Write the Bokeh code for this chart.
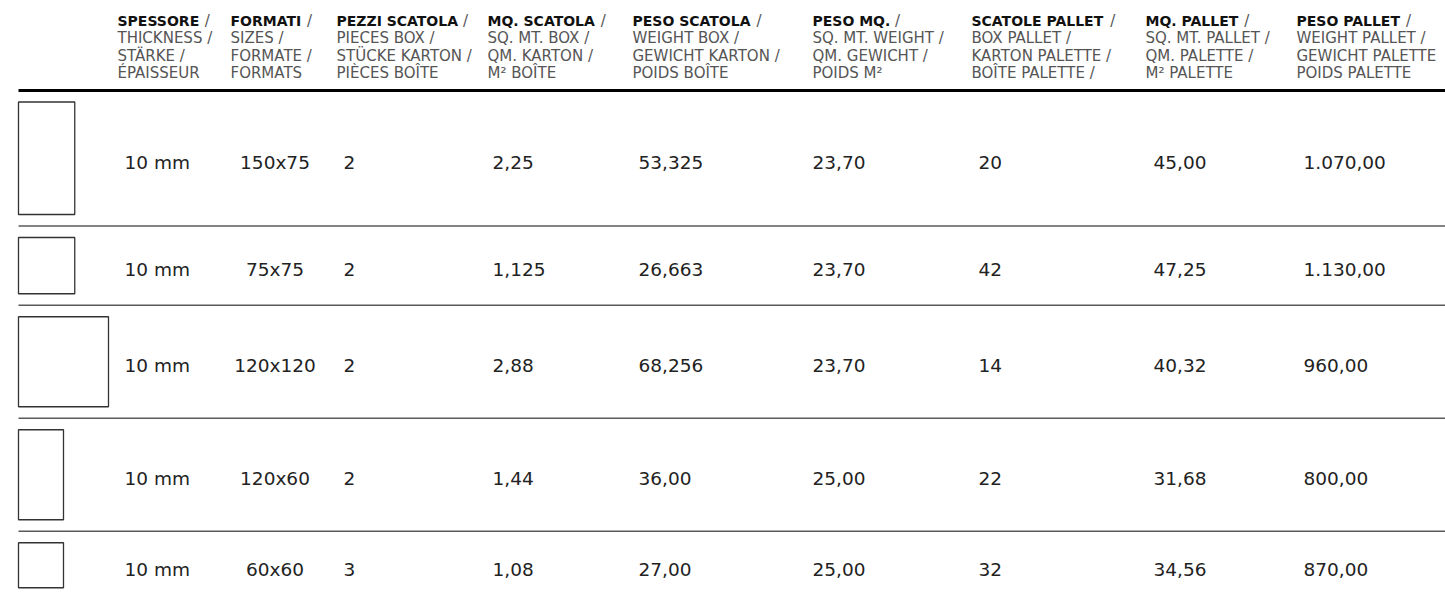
from bokeh.plotting import figure
from bokeh.models import Range1d, ColumnDataSource
from bokeh.embed import file_html
from bokeh.resources import INLINE
from bokeh.core.properties import value

# ---------------- data ----------------
thickness = ["10 mm", "10 mm", "10 mm", "10 mm", "10 mm"]
formats = ["150x75", "75x75", "120x120", "120x60", "60x60"]
pieces_box = ["2", "2", "2", "2", "3"]
sqm_box = ["2,25", "1,125", "2,88", "1,44", "1,08"]
weight_box = ["53,325", "26,663", "68,256", "36,00", "27,00"]
weight_sqm = ["23,70", "23,70", "23,70", "25,00", "25,00"]
box_pallet = ["20", "42", "14", "22", "32"]
sqm_pallet = ["45,00", "47,25", "40,32", "31,68", "34,56"]
weight_pallet = ["1.070,00", "1.130,00", "960,00", "800,00", "870,00"]

header_bold = ["SPESSORE", "FORMATI", "PEZZI SCATOLA", "MQ. SCATOLA", "PESO SCATOLA",
               "PESO MQ.", "SCATOLE PALLET", "MQ. PALLET", "PESO PALLET"]
header_line2 = ["THICKNESS /", "SIZES /", "PIECES BOX /", "SQ. MT. BOX /", "WEIGHT BOX /",
                "SQ. MT. WEIGHT /", "BOX PALLET /", "SQ. MT. PALLET /", "WEIGHT PALLET /"]
header_line3 = ["STÄRKE /", "FORMATE /", "STÜCKE KARTON /", "QM. KARTON /", "GEWICHT KARTON /",
                "QM. GEWICHT /", "KARTON PALETTE /", "QM. PALETTE /", "GEWICHT PALETTE"]
header_line4 = ["ÉPAISSEUR", "FORMATS", "PIÈCES BOÎTE", "M² BOÎTE", "POIDS BOÎTE",
                "POIDS M²", "BOÎTE PALETTE /", "M² PALETTE", "POIDS PALETTE"]

# ---------------- layout / style ----------------
FONT = "DejaVu Sans"
SCALE = 0.75          # px per cm for tile drawings
PAD = 11.5            # padding around tile inside a row
TABLE_TOP = 90
TABLE_LEFT = 18
TABLE_RIGHT = 1445
col_x = [124, 274.5, 343, 492, 638, 812, 978, 1153, 1303]
col_align = ["left", "center", "left", "left", "left", "left", "left", "left", "left"]
head_x = [117, 230, 336, 487, 632, 812, 971, 1145, 1296]
head_base = [20, 37.5, 55, 72.5]
DATA_DY = 4
BOLD_SIZE = 14
SUB_SIZE = 15
DATA_SIZE = 18.5

# DejaVu Sans Bold advance widths (em) for placing the trailing " /"
bold_w = {" ": 0.348, ".": 0.381, "A": 0.774, "C": 0.734, "E": 0.683, "F": 0.683,
          "I": 0.368, "L": 0.634, "M": 0.994, "O": 0.850, "P": 0.733, "Q": 0.850,
          "R": 0.770, "S": 0.722, "T": 0.687, "Z": 0.695}

tile_h = [float(f.split("x")[0]) * SCALE for f in formats]
tile_w = [float(f.split("x")[1]) * SCALE for f in formats]
row_top, row_bottom = [], []
y = TABLE_TOP
for h in tile_h:
    row_top.append(y)
    y = y + h + 2 * PAD
    row_bottom.append(y)
row_mid = [(a + b) / 2 for a, b in zip(row_top, row_bottom)]

p = figure(width=1445, height=592, x_range=Range1d(0, 1445), y_range=Range1d(592, 0),
           output_backend="svg", toolbar_location=None, min_border=0,
           x_axis_location=None, y_axis_location=None,
           outline_line_color=None, background_fill_color="white",
           border_fill_color="white")
p.grid.visible = False

# header rule
p.segment(x0=[TABLE_LEFT], x1=[TABLE_RIGHT], y0=[TABLE_TOP], y1=[TABLE_TOP],
          line_color="#000000", line_width=3)
# row separators
seps = row_bottom[:-1]
p.segment(x0=[TABLE_LEFT] * len(seps), x1=[TABLE_RIGHT] * len(seps), y0=seps, y1=seps,
          line_color="#5a5a5a", line_width=1.5)

# tile outlines
tiles = ColumnDataSource(dict(
    left=[TABLE_LEFT] * len(formats),
    right=[TABLE_LEFT + w for w in tile_w],
    top=[t + PAD for t in row_top],
    bottom=[t + PAD + h for t, h in zip(row_top, tile_h)],
))
p.quad(left="left", right="right", top="top", bottom="bottom", source=tiles,
       fill_color="white", line_color="#333333", line_width=1.3)

# header texts
p.text(x=head_x, y=[head_base[0]] * 9, text=header_bold, text_font=value(FONT),
       text_font_style="bold", text_font_size=f"{BOLD_SIZE}px", text_color="#111111",
       text_align="left", text_baseline="alphabetic")
slash_x = [hx + sum(bold_w.get(c, 0.7) for c in name) * BOLD_SIZE + 0.318 * SUB_SIZE
           for hx, name in zip(head_x, header_bold)]
p.text(x=slash_x, y=[head_base[0]] * 9, text=["/"] * 9, text_font=value(FONT),
       text_font_size=f"{SUB_SIZE}px", text_color="#555555",
       text_align="left", text_baseline="alphabetic")
for lines, yb in zip([header_line2, header_line3, header_line4], head_base[1:]):
    p.text(x=head_x, y=[yb] * 9, text=lines, text_font=value(FONT),
           text_font_size=f"{SUB_SIZE}px", text_color="#555555",
           text_align="left", text_baseline="alphabetic")

# data cells
columns = [thickness, formats, pieces_box, sqm_box, weight_box, weight_sqm,
           box_pallet, sqm_pallet, weight_pallet]
for vals, cx, al in zip(columns, col_x, col_align):
    p.text(x=[cx] * len(vals), y=[m + DATA_DY for m in row_mid], text=vals,
           text_font=value(FONT), text_font_size=f"{DATA_SIZE}px", text_color="#222222",
           text_align=al, text_baseline="alphabetic")

open("out.html", "w").write(file_html(p, INLINE))
